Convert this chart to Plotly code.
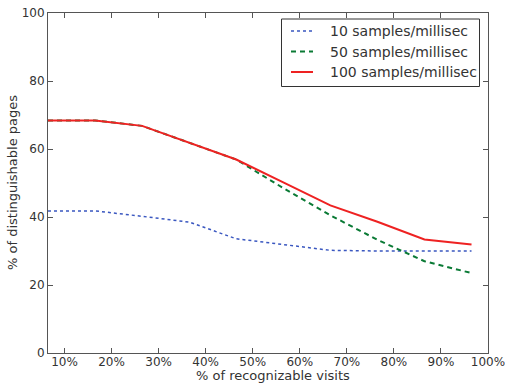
import plotly.graph_objects as go

x_vals = [6.5, 16.5, 26.5, 36.5, 46.5, 56.5, 66.5, 76.5, 86.5, 96.5]
s10 = [41.8, 41.8, 40.2, 38.5, 33.6, 32.0, 30.2, 30.0, 30.0, 30.0]
s50 = [68.4, 68.4, 66.8, 61.8, 56.9, 48.5, 40.5, 33.3, 27.0, 23.5]
s100 = [68.4, 68.4, 66.8, 61.8, 56.9, 50.2, 43.4, 38.6, 33.4, 31.9]
names = ["10 samples/millisec", "50 samples/millisec", "100 samples/millisec"]
colors = ["#3a57c0", "#0a7a35", "#ee2222"]
dashes = ["dot", "5px,4px", "solid"]
widths = [1.5, 2, 2]
x_ticks = [10, 20, 30, 40, 50, 60, 70, 80, 90, 100]
x_ticklabels = [f"{t}%" for t in x_ticks]
y_ticks = [0, 20, 40, 60, 80, 100]

W, H = 505, 383
ML, MR, MT, MB = 48, 17, 13, 30
pw, ph = W - ML - MR, H - MT - MB

def px_x(p):
    return (p - ML) / pw

def px_y(p):
    return 1 - (p - MT) / ph

fig = go.Figure()
for yv, nm, c, d, w in zip([s10, s50, s100], names, colors, dashes, widths):
    fig.add_trace(go.Scatter(x=x_vals, y=yv, mode="lines", name=nm, showlegend=False,
                             line=dict(color=c, width=w, dash=d)))

font = "DejaVu Sans, sans-serif"
axis_common = dict(showline=True, linecolor="#555", linewidth=1, mirror="ticks",
                   ticks="inside", ticklen=5, tickcolor="#555", showgrid=False,
                   zeroline=False, automargin=False, ticklabeloverflow="allow",
                   tickfont=dict(family=font, size=12, color="#333"))
fig.update_xaxes(range=[6.5, 100.001], tickvals=x_ticks, ticktext=x_ticklabels,
                 ticklabelstandoff=-2, **axis_common)
fig.update_yaxes(range=[0, 100.001], tickvals=y_ticks, **axis_common)

shapes = []
annotations = []
# axis titles
annotations.append(dict(text="% of recognizable visits", xref="paper", yref="paper",
                        x=px_x(272.5), y=px_y(375.5), xanchor="center", yanchor="middle",
                        showarrow=False, font=dict(family=font, size=13, color="#333")))
annotations.append(dict(text="% of distinguishable pages", xref="paper", yref="paper",
                        x=px_x(12.5), y=px_y(182.5), xanchor="center", yanchor="middle",
                        textangle=-90, showarrow=False, font=dict(family=font, size=13, color="#333")))
# legend
shapes.append(dict(type="rect", xref="paper", yref="paper",
                   x0=px_x(281.5), x1=px_x(479.5), y0=px_y(19), y1=px_y(86.5),
                   line=dict(color="#333", width=1), fillcolor="white", layer="above"))
row_y = [31, 51.5, 72]
for ry, nm, c, d, w in zip(row_y, names, colors, dashes, widths):
    shapes.append(dict(type="line", xref="paper", yref="paper",
                       x0=px_x(291), x1=px_x(313), y0=px_y(ry), y1=px_y(ry),
                       line=dict(color=c, width=w, dash=d), layer="above"))
    annotations.append(dict(text=nm, xref="paper", yref="paper", x=px_x(327.5), y=px_y(ry),
                            xanchor="left", yanchor="middle", showarrow=False,
                            font=dict(family=font, size=14, color="#333")))

fig.update_layout(width=W, height=H, margin=dict(l=ML, r=MR, t=MT, b=MB),
                  paper_bgcolor="white", plot_bgcolor="white",
                  font=dict(family=font, color="#333"),
                  shapes=shapes, annotations=annotations, showlegend=False)
fig.write_html("out.html")
